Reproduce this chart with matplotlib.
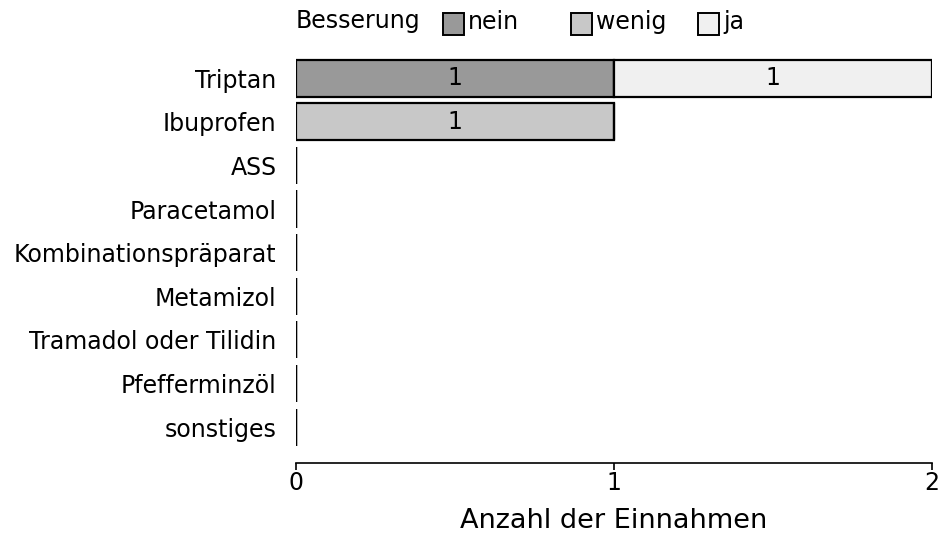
import matplotlib
matplotlib.use("Agg")
import matplotlib.pyplot as plt
from matplotlib.patches import Rectangle

categories = ["Triptan", "Ibuprofen", "ASS", "Paracetamol", "Kombinationspräparat",
              "Metamizol", "Tramadol oder Tilidin", "Pfefferminzöl", "sonstiges"]
series_names = ["nein", "wenig", "ja"]
nein = [1, 0, 0, 0, 0, 0, 0, 0, 0]
wenig = [0, 1, 0, 0, 0, 0, 0, 0, 0]
ja = [1, 0, 0, 0, 0, 0, 0, 0, 0]
colors = ["#999999", "#c8c8c8", "#f0f0f0"]
xticks = [0, 1, 2]

W, H = 939, 534
FS = 17
fig = plt.figure(figsize=(W / 100, H / 100), dpi=100)
ax = fig.add_axes([296 / W, 1 - 463 / H, (932 - 296) / W, (463 - 58) / H])

ypos = list(range(len(categories)))
left = [0] * len(categories)
for name, vals, col in zip(series_names, [nein, wenig, ja], colors):
    bars = ax.barh(ypos, vals, left=left, height=0.85, color=col,
                   edgecolor="black", linewidth=1.6, label=name)
    for b, v, l in zip(bars, vals, left):
        if v > 0:
            ax.text(l + v / 2, b.get_y() + b.get_height() / 2, str(v),
                    ha="center", va="center", fontsize=FS)
    left = [a + b for a, b in zip(left, vals)]

ax.set_xlim(0, 2)
ax.set_ylim(8.82, -0.46)
ax.set_yticks(ypos)
ax.set_yticklabels(categories, fontsize=FS)
ax.tick_params(axis="y", length=0, pad=14)
ax.set_xticks(xticks)
ax.set_xticklabels([str(t) for t in xticks], fontsize=FS)
ax.tick_params(axis="x", length=5, width=1.2, pad=1)
ax.set_xlabel("Anzahl der Einnahmen", fontsize=19.5, labelpad=9)
for s in ["left", "top", "right"]:
    ax.spines[s].set_visible(False)
ax.spines["bottom"].set_linewidth(1.2)

# legend (manual horizontal layout)
fig.text(296 / W, 1 - 21 / H, "Besserung", fontsize=FS, va="center", ha="left")
patch_x = [443, 571, 698]
for px, name, col in zip(patch_x, series_names, colors):
    fig.patches.append(Rectangle((px / W, 1 - 35 / H), 21 / W, 22 / H,
                                 transform=fig.transFigure, facecolor=col,
                                 edgecolor="black", linewidth=1.4))
    fig.text((px + 25) / W, 1 - 22 / H, name, fontsize=FS, va="center", ha="left")

fig.savefig("out.png", dpi=100)
